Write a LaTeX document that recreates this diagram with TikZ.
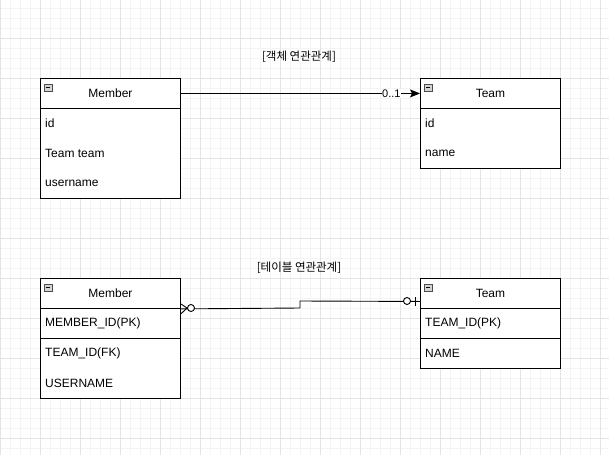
\documentclass[tikz,border=0pt]{standalone}
\usepackage{fontspec}
\setmainfont{Liberation Sans}
\newfontfamily\krfont{Noto Sans CJK KR}
\usetikzlibrary{arrows.meta,positioning}
\definecolor{gridminor}{HTML}{F4F4F4}
\definecolor{gridmajor}{HTML}{E4E4E4}
\definecolor{iconfill}{HTML}{D4D4D4}

\tikzset{
  boxframe/.style={draw,line width=0.9pt,anchor=north west,minimum width=140pt,inner sep=0pt},
  hdrbox/.style={boxframe,minimum height=30pt,font=\fontsize{12}{14}\selectfont},
  rowtext/.style={anchor=west,inner sep=0pt,font=\fontsize{12}{14}\selectfont},
  titletext/.style={font=\krfont\fontsize{11.5}{13}\selectfont},
  erline/.style={line width=0.9pt}
}

% collapse icon in a header
\newcommand{\collapseicon}[2]{%
  \draw[fill=iconfill,draw=black!70,line width=0.5pt] (#1,#2) rectangle ++(8,7);
  \draw[line width=0.7pt] (#1+1.8,#2+3.5) -- ++(4.4,0);
}

\begin{document}
\begin{tikzpicture}[x=1pt,y=-1pt]
  \useasboundingbox (0,0) rectangle (609,455);
  \fill[white] (0,0) rectangle (609,455);
  % grid
  \foreach \i in {0,10,...,600} \draw[gridminor,line width=0.6pt] (\i,0) -- (\i,455);
  \foreach \j in {8,18,...,448} \draw[gridminor,line width=0.6pt] (0,\j) -- (609,\j);
  \foreach \i in {0,40,...,600} \draw[gridmajor,line width=0.6pt] (\i,0) -- (\i,455);
  \foreach \j in {38,78,...,438} \draw[gridmajor,line width=0.6pt] (0,\j) -- (609,\j);

  % object model
  \node[titletext] (objtitle) at (299,57) {[객체 연관관계]};
  \node[boxframe,fill=white,minimum height=120pt] (mobj) at (40,78) {};
  \node[hdrbox] (mobjhead) at (40,78) {Member};
  \node[rowtext] (mobjid) at (45,123) {id};
  \node[rowtext] (mobjteam) at (45,153) {Team team};
  \node[rowtext] (mobjuser) at (45,183) {username};
  \collapseicon{44}{84}

  \node[boxframe,fill=white,minimum height=90pt] (tobj) at (420,78) {};
  \node[hdrbox] (tobjhead) at (420,78) {Team};
  \node[rowtext] (tobjid) at (425,123) {id};
  \node[rowtext] (tobjname) at (425,153) {name};
  \collapseicon{424}{84}

  \draw[line width=0.9pt,-{Stealth[length=10pt,width=8pt,inset=2pt]}] (mobjhead.east) -- (tobjhead.west)
    node[pos=0.88,fill=white,inner sep=0.5pt,font=\fontsize{11}{12}\selectfont] (mult) {0..1};

  % table model
  \node[titletext] (tabtitle) at (299,268) {[테이블 연관관계]};
  \node[boxframe,fill=white,minimum height=120pt] (mtab) at (40,278) {};
  \node[hdrbox] (mtabhead) at (40,278) {Member};
  \node[boxframe,minimum height=30pt] (mtabpk) at (40,308) {};
  \node[rowtext] (mtabmid) at (45,323) {MEMBER\_ID(PK)};
  \node[rowtext] (mtabtid) at (45,353) {TEAM\_ID(FK)};
  \node[rowtext] (mtabuser) at (45,383) {USERNAME};
  \collapseicon{44}{284}

  \node[boxframe,fill=white,minimum height=90pt] (ttab) at (420,278) {};
  \node[hdrbox] (ttabhead) at (420,278) {Team};
  \node[boxframe,minimum height=30pt] (ttabpk) at (420,308) {};
  \node[rowtext] (ttabtid) at (425,323) {TEAM\_ID(PK)};
  \node[rowtext] (ttabname) at (425,353) {NAME};
  \collapseicon{424}{284}

  \draw[erline] (mtabhead.south east) -- (300,308) -- (300,301) -- ([yshift=-8pt]ttabhead.west);
  % zero to many
  \draw[erline] ([yshift=5pt]mtabhead.south east) -- (187,308) -- ([yshift=-5pt]mtabhead.south east);
  \draw[erline,fill=white] (191,308) circle (3.5);
  % zero to one
  \draw[erline,fill=white] (407,301) circle (3.5);
  \draw[erline] (415,297) -- (415,306);
\end{tikzpicture}
\end{document}
